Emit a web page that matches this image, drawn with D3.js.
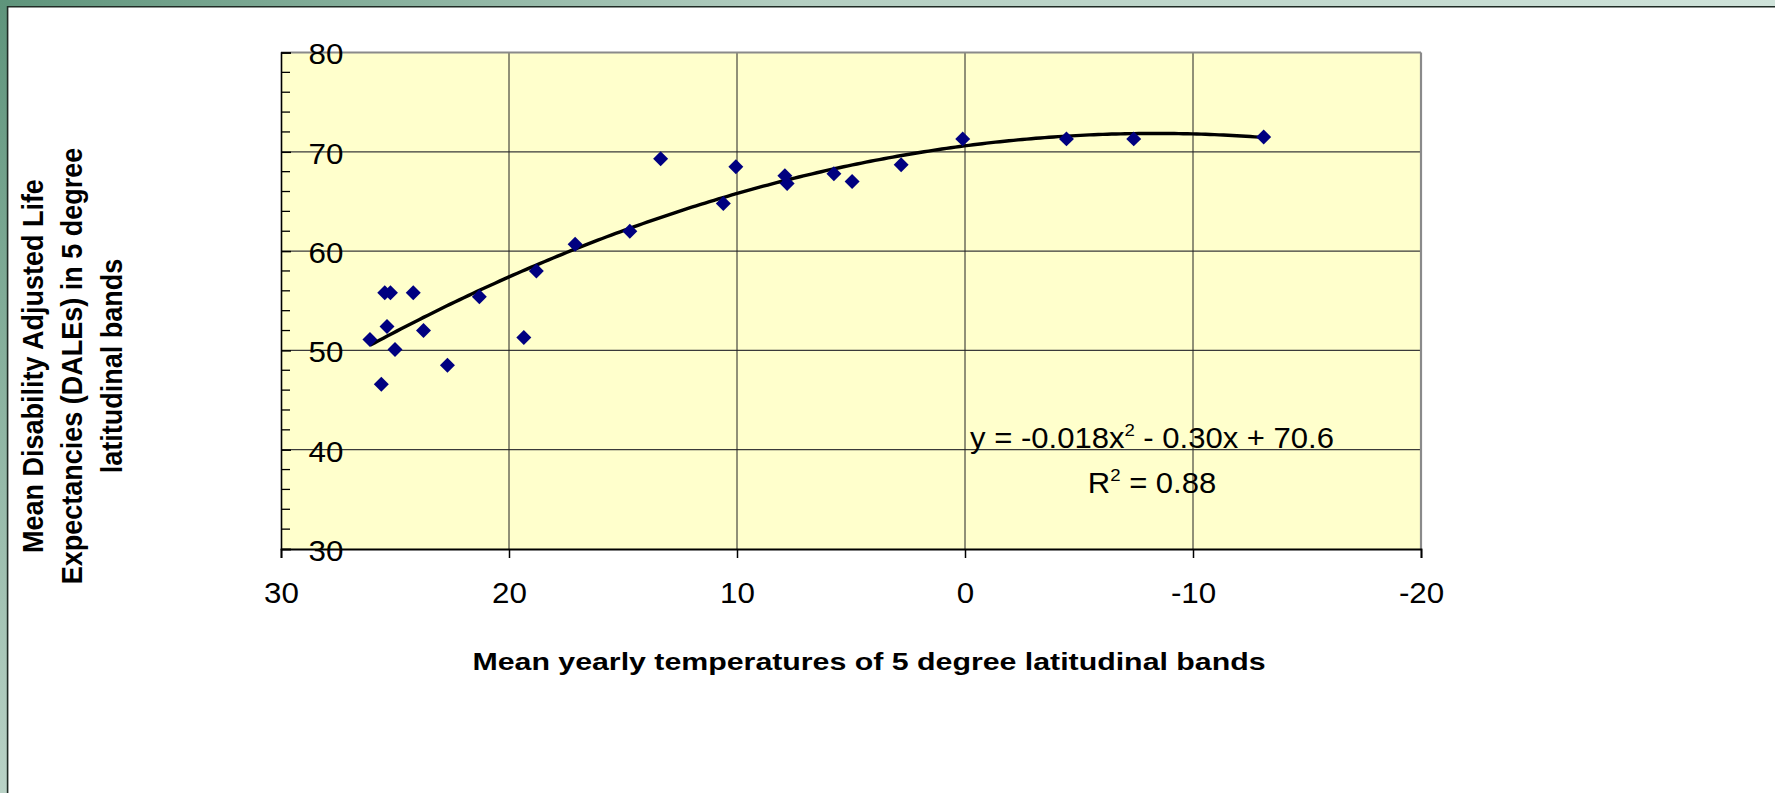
<!DOCTYPE html>
<html>
<head>
<meta charset="utf-8">
<script src="https://cdn.jsdelivr.net/npm/d3@7"></script>
<style>
  html, body { margin: 0; padding: 0; background: #ffffff; }
  svg { display: block; }
  text { font-family: "Liberation Sans", Arial, Helvetica, sans-serif; fill: #000; }
</style>
</head>
<body>
<svg id="chart" width="1775" height="793"></svg>
<script>
// ---- data ----
const temperatures = [26.1, 25.6, 25.45, 25.2, 25.35, 25.0, 24.2, 23.75, 22.7, 21.3, 19.35, 18.8, 17.1, 14.7, 13.35, 10.6, 10.05, 7.9, 7.8, 5.75, 4.95, 2.8, 0.1, -4.45, -7.4, -13.1];
const dales        = [51.1, 46.6, 55.8, 55.8, 52.4, 50.1, 55.8, 52.0, 48.5, 55.4, 51.3, 58.0, 60.7, 62.0, 69.3, 64.8, 68.5, 67.6, 66.8, 67.8, 67.0, 68.7, 71.3, 71.3, 71.3, 71.5];
const xTicks = [30, 20, 10, 0, -10, -20];
const yTicks = [30, 40, 50, 60, 70, 80];
const yMinorTicks = [32, 34, 36, 38, 42, 44, 46, 48, 52, 54, 56, 58, 62, 64, 66, 68, 72, 74, 76, 78];
const trendCoefficients = [-0.018, -0.30, 70.6]; // a, b, c of y = a x^2 + b x + c
const equationParts = ["y = -0.018x", "2", " - 0.30x + 70.6"];
const r2Parts = ["R", "2", " = 0.88"];
const xTitle = "Mean yearly  temperatures of 5 degree latitudinal bands";
const yTitleLines = ["Mean Disability Adjusted Life", "Expectancies (DALEs) in 5 degree", "latitudinal bands"];

// ---- layout ----
const W = 1775, H = 793;
const plot = { left: 281, top: 52.5, right: 1421, bottom: 549 };
const svg = d3.select("#chart");

// frame background
const defs = svg.append("defs");
const gTop = defs.append("linearGradient").attr("id", "gTop").attr("x1", "0").attr("x2", "1").attr("y1", "0").attr("y2", "0");
gTop.append("stop").attr("offset", "0").attr("stop-color", "#5e947b");
gTop.append("stop").attr("offset", "0.45").attr("stop-color", "#b4cfc2");
gTop.append("stop").attr("offset", "1").attr("stop-color", "#cfe3da");
const gLeft = defs.append("linearGradient").attr("id", "gLeft").attr("x1", "0").attr("x2", "0").attr("y1", "0").attr("y2", "1");
gLeft.append("stop").attr("offset", "0").attr("stop-color", "#5e947b");
gLeft.append("stop").attr("offset", "1").attr("stop-color", "#b9d2c6");

svg.append("rect").attr("x", 0).attr("y", 0).attr("width", W).attr("height", H).attr("fill", "#ffffff");
svg.append("rect").attr("x", 0).attr("y", 0).attr("width", W).attr("height", 6.5).attr("fill", "url(#gTop)");
svg.append("rect").attr("x", 0).attr("y", 0).attr("width", 7).attr("height", H).attr("fill", "url(#gLeft)");
svg.append("line").attr("x1", 7).attr("x2", W).attr("y1", 6.8).attr("y2", 6.8).attr("stroke", "#1f2b25").attr("stroke-width", 1.6);
svg.append("line").attr("x1", 7.6).attr("x2", 7.6).attr("y1", 6).attr("y2", H).attr("stroke", "#1f2b25").attr("stroke-width", 1.6);

// scales
const x = d3.scaleLinear().domain([30, -20]).range([plot.left, plot.right]);
const y = d3.scaleLinear().domain([30, 80]).range([plot.bottom, plot.top]);

// plot area
svg.append("rect")
  .attr("x", plot.left).attr("y", plot.top)
  .attr("width", plot.right - plot.left).attr("height", plot.bottom - plot.top)
  .attr("fill", "#ffffcc");

// grid lines
const grid = svg.append("g");
grid.selectAll("line.h").data(yTicks.filter(v => v > 30 && v < 80)).join("line")
  .attr("x1", plot.left).attr("x2", plot.right)
  .attr("y1", d => y(d)).attr("y2", d => y(d))
  .attr("stroke", "#3a3a3a").attr("stroke-width", 1.2);
grid.selectAll("line.v").data(xTicks.filter(v => v < 30 && v > -20)).join("line")
  .attr("y1", plot.top).attr("y2", plot.bottom)
  .attr("x1", d => x(d)).attr("x2", d => x(d))
  .attr("stroke", "#222").attr("stroke-width", 1);

// top and right border (grey)
svg.append("line").attr("x1", plot.left).attr("x2", plot.right).attr("y1", plot.top).attr("y2", plot.top)
  .attr("stroke", "#8a8a8a").attr("stroke-width", 2.2);
svg.append("line").attr("x1", plot.right).attr("x2", plot.right).attr("y1", plot.top).attr("y2", plot.bottom)
  .attr("stroke", "#8a8a8a").attr("stroke-width", 2.2);

// trend line from the displayed equation, over the data's x extent
const [ta, tb, tc] = trendCoefficients;
const xExt = d3.extent(temperatures);
const trendX = d3.range(xExt[0], xExt[1] + 1e-9, (xExt[1] - xExt[0]) / 200);
const trendPts = trendX.map(t => [t, ta * t * t + tb * t + tc]);
svg.append("path")
  .datum(trendPts)
  .attr("fill", "none").attr("stroke", "#000").attr("stroke-width", 3.4)
  .attr("stroke-linejoin", "round")
  .attr("d", d3.line().x(d => x(d[0])).y(d => y(d[1])));

// points (diamonds)
const diamond = d3.symbol().type(d3.symbolSquare).size(112);
svg.append("g").selectAll("path").data(temperatures.map((t, i) => [t, dales[i]])).join("path")
  .attr("d", diamond)
  .attr("transform", d => `translate(${x(d[0])},${y(d[1])}) rotate(45)`)
  .attr("fill", "#000080");

// y axis (ticks inward, labels inside)
const fmt = d => String(d);
const yAxis = svg.append("g").attr("transform", `translate(${plot.left},0)`)
  .call(d3.axisLeft(y).tickValues(yTicks).tickSize(-10).tickFormat(fmt));
yAxis.select(".domain").attr("stroke", "#000").attr("stroke-width", 1.6);
yAxis.selectAll(".tick line").attr("stroke", "#000").attr("stroke-width", 1.5);
yAxis.selectAll(".tick text")
  .attr("x", 0).attr("dy", "0.36em")
  .attr("text-anchor", "start")
  .attr("font-size", 29)
  .attr("transform", "translate(27.5,1) scale(1.08,1)")
  .attr("fill", "#000");
svg.append("g").selectAll("line").data(yMinorTicks).join("line")
  .attr("x1", plot.left).attr("x2", plot.left + 9)
  .attr("y1", d => y(d)).attr("y2", d => y(d))
  .attr("stroke", "#000").attr("stroke-width", 1.3);

// x axis
const xAxis = svg.append("g").attr("transform", `translate(0,${plot.bottom})`)
  .call(d3.axisBottom(x).tickValues(xTicks).tickSize(9).tickPadding(24).tickFormat(fmt));
xAxis.select(".domain").attr("stroke", "#000").attr("stroke-width", 1.8);
xAxis.selectAll(".tick line").attr("stroke", "#000").attr("stroke-width", 1.5);
xAxis.selectAll(".tick text")
  .attr("font-size", 29)
  .attr("transform", "scale(1.08,1)")
  .attr("fill", "#000");

// equation labels
const eqX = 1152;
function supText(parts, baseY, size) {
  const t = svg.append("text")
    .attr("text-anchor", "middle")
    .attr("font-size", size)
    .attr("transform", `translate(${eqX},${baseY}) scale(1.07,1)`);
  t.append("tspan").text(parts[0]);
  t.append("tspan").attr("font-size", size * 0.6).attr("dy", -size * 0.42).text(parts[1]);
  t.append("tspan").attr("dy", size * 0.42).text(parts[2]);
}
supText(equationParts, 448, 29);
supText(r2Parts, 493, 29);

// x title
svg.append("text")
  .attr("text-anchor", "middle")
  .attr("font-weight", "bold")
  .attr("font-size", 23.5)
  .attr("transform", `translate(869,670) scale(1.29,1)`)
  .text(xTitle);

// y title (three rotated lines)
const yTitleBaselines = [42.5, 82, 121.5];
svg.append("g").selectAll("text").data(yTitleLines).join("text")
  .attr("text-anchor", "middle")
  .attr("font-weight", "bold")
  .attr("font-size", 30)
  .attr("transform", (d, i) => `translate(${yTitleBaselines[i]},366) rotate(-90) scale(0.9,1)`)
  .text(d => d);
</script>
</body>
</html>
